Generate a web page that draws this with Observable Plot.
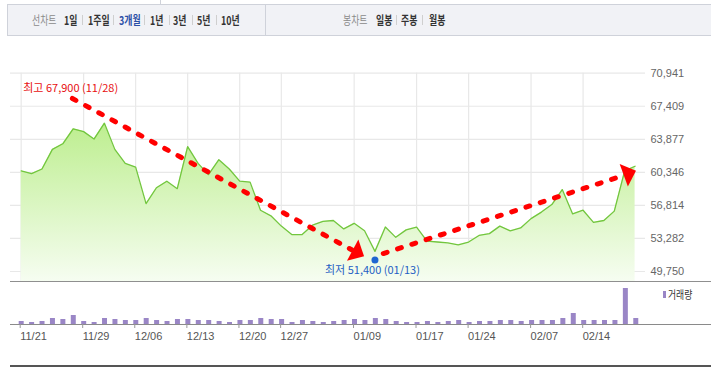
<!DOCTYPE html>
<html><head><meta charset="utf-8">
<script src="https://cdn.jsdelivr.net/npm/d3@7"></script>
<script src="https://cdn.jsdelivr.net/npm/@observablehq/plot@0.6"></script>
<style>
body{margin:0;background:#fff;}
#root{position:relative;width:711px;height:367px;overflow:hidden;font-family:"Noto Sans CJK KR","Noto Sans",sans-serif;}
.tb{position:absolute;left:7px;top:4px;width:704px;height:32px;box-sizing:border-box;background:#f1f2f6;border:1px solid #cfd2da;border-right:none;}
.it{position:absolute;top:12px;font-size:12px;line-height:16px;white-space:nowrap;transform:scaleX(0.74);transform-origin:0 50%;font-weight:700;color:#333;}
.it.g{color:#8a8a8a;font-weight:400;}
.it.on{color:#2b4fa6;}
.sep{position:absolute;top:15px;width:1px;height:10px;background:#cfcfcf;}
.ln{position:absolute;}
#price{position:absolute;left:0;top:60px;}
#vol{position:absolute;left:0;top:282px;}
.leg{position:absolute;left:668px;top:286px;font-size:11px;line-height:16px;color:#333;transform:scaleX(0.8);transform-origin:0 50%;white-space:nowrap;}
</style></head>
<body><div id="root"></div>
<script>
// ---- data ----
const tickIdx = [0, 6, 11, 16, 21, 25, 32, 38, 43, 49, 54];
const tickLabels = ["11/21","11/29","12/06","12/13","12/20","12/27","01/09","01/17","01/24","02/07","02/14"];
const closes = [60500,60200,60700,62800,63400,65000,64700,63900,65600,62800,
                61300,60900,57000,58700,59400,58600,63100,61300,60100,61700,
                60700,59400,59300,56300,55700,54600,53700,53700,54700,55100,
                55200,54300,54900,54100,51900,54500,53400,54200,54500,53000,
                52900,52800,52600,52900,53600,53800,54600,54100,54400,55400,
                56100,56900,58500,55900,56300,55000,55200,56200,60500,61000];
const volumes = [3,2,3,6,5,9,3,2,6,5,
                 4,4,6,4,3,5,5,4,4,3,
                 2,4,4,6,5,5,2,4,3,2,
                 3,4,5,4,6,5,3,2,2,3,
                 2,3,4,2,3,3,4,4,3,4,
                 4,4,6,11,4,4,4,4,36,6];
const yTicks = [49750, 53282, 56814, 60346, 63877, 67409, 70941];
const highIdx = 5, highValue = 67900, highDate = "11/28";
const lowIdx = 34, lowValue = 51400, lowDate = "01/13";
// trend arrows (index, price)
const trendX1 = [4.92, 34.8], trendY1 = [68240, 51670];
const trendX2 = [31.8, 57.9], trendY2 = [52050, 60010];
const headX = [32.22, 58.3], headY = [51810, 60190], headAngle = [118.4, 70];

const rows = closes.map((c, i) => ({i, close: c, vol: volumes[i]}));
const root = document.getElementById("root");

// ---- top bar ----
const tb = document.createElement("div"); tb.className = "tb"; root.appendChild(tb);
const items = [["선차트",31.7,"g"],["1일",64.3,""],["1주일",87.7,""],["3개월",119,"on"],["1년",150,""],["3년",173.3,""],["5년",197.3,""],["10년",220.7,""],
               ["봉차트",343.3,"g"],["일봉",375.7,""],["주봉",401.3,""],["월봉",429,""]];
const seps = [82,113.3,144,168.7,192.3,215.7,396,421.7];
for (const [t,x,c] of items){const s=document.createElement("span");s.className="it "+c;s.textContent=t;s.style.left=x+"px";root.appendChild(s);}
for (const x of seps){const s=document.createElement("div");s.className="sep";s.style.left=x+"px";root.appendChild(s);}
function line(l,t,w,h,c){const d=document.createElement("div");d.className="ln";Object.assign(d.style,{left:l+"px",top:t+"px",width:w+"px",height:h+"px",background:c});root.appendChild(d);}
line(265,5,1,30,"#cfd2da");
line(160,0,1,4,"#cfd2da");

// ---- price chart ----
const yMin = 48681, yMax = 70941;
function head(deg){const a=deg*Math.PI/180,c=Math.cos(a),s=Math.sin(a);
  const p=[[0,-8.7],[12,4.3],[-12,4.3]].map(([x,y])=>[x*c-y*s,x*s+y*c]);
  return {draw(ctx){ctx.moveTo(p[0][0],p[0][1]);ctx.lineTo(p[1][0],p[1][1]);ctx.lineTo(p[2][0],p[2][1]);ctx.closePath();}};}
const fmt = d3.format(",");
const price = Plot.plot({
  width: 711, height: 222, marginLeft: 10, marginRight: 66, marginTop: 12.7, marginBottom: 1,
  x: {domain: [-1.027, 60], axis: null},
  y: {domain: [yMin, yMax], axis: null},
  style: {background: "transparent", fontFamily: "'Liberation Sans', Arial, sans-serif", overflow: "visible"},
  marks: [
    () => {const s=d3.create("svg:defs");const g=s.append("linearGradient").attr("id","pg").attr("x1",0).attr("x2",0).attr("y1",0).attr("y2",1);
      g.append("stop").attr("offset","0%").attr("stop-color","#bdee8f");g.append("stop").attr("offset","100%").attr("stop-color","#f6fdf1");return s.node();},
    Plot.ruleY(yTicks, {stroke: "#e8e8e8", strokeWidth: 1.2}),
    Plot.ruleX(tickIdx, {stroke: "#e8e8e8", strokeWidth: 1.2}),
    Plot.areaY(rows, {x: "i", y1: yMin, y2: "close", fill: "url(#pg)"}),
    Plot.lineY(rows, {x: "i", y: "close", stroke: "#72c63e", strokeWidth: 1.3}),
    Plot.axisY({anchor: "right", ticks: yTicks, tickFormat: fmt, tickSize: 0, tickPadding: 5, fontSize: 11, fill: "#666", label: null}),
    Plot.link([0,1], {x1: trendX1, y1: trendY1, x2: trendX2, y2: trendY2, stroke: "#ff0000", strokeWidth: 5, strokeDasharray: "4,11", strokeLinecap: "round"}),
    Plot.dot([0], {x: [headX[0]], y: [headY[0]], r: 5, symbol: head(headAngle[0]), fill: "#ff0000", stroke: "none"}),
    Plot.dot([0], {x: [headX[1]], y: [headY[1]], r: 5, symbol: head(headAngle[1]), fill: "#ff0000", stroke: "none"}),
    Plot.dot([0], {x: [lowIdx], y: [lowValue], r: 3.5, fill: "#1f66d1", dy: 4}),
    Plot.text([0], {x: [highIdx], y: [highValue], text: [`최고 ${fmt(highValue)} (${highDate})`], dx: -50, dy: -13.5, textAnchor: "start", fill: "#e81010", fontSize: 11, fontFamily: "'Noto Sans CJK KR', sans-serif"}),
    Plot.text([0], {x: [lowIdx], y: [lowValue], text: [`최저 ${fmt(lowValue)} (${lowDate})`], dx: -50, dy: 14.4, textAnchor: "start", fill: "#1f5fc4", fontSize: 11, fontFamily: "'Noto Sans CJK KR', sans-serif"})
  ]
});
price.id = "price"; root.appendChild(price);
line(10,281,701,1,"#8f8f8f");

// ---- volume chart ----
const vol = Plot.plot({
  width: 711, height: 85, marginLeft: 10, marginRight: 0, marginTop: 2, marginBottom: 43,
  x: {domain: [-1.027, 66.27], axis: null},
  y: {domain: [0, 40], axis: null},
  style: {background: "transparent", fontFamily: "'Liberation Sans', Arial, sans-serif", overflow: "visible"},
  marks: [
    Plot.ruleX(rows, {x: "i", y1: 0, y2: "vol", stroke: "#9a86c6", strokeWidth: 5}),
    Plot.ruleY([0], {stroke: "#8a8a8a"}),
    Plot.axisX({ticks: tickIdx, tickFormat: d => tickLabels[tickIdx.indexOf(d)], tickSize: 4, tickPadding: 4, textAnchor: "start", dx: -1, fontSize: 11, fill: "#555", stroke: "#999", label: null})
  ]
});
vol.id = "vol"; root.appendChild(vol);
line(10,365,701,2,"#555");
line(663,291,3,7,"#9a86c6");
const lg=document.createElement("span");lg.className="leg";lg.textContent="거래량";root.appendChild(lg);
</script></body></html>
